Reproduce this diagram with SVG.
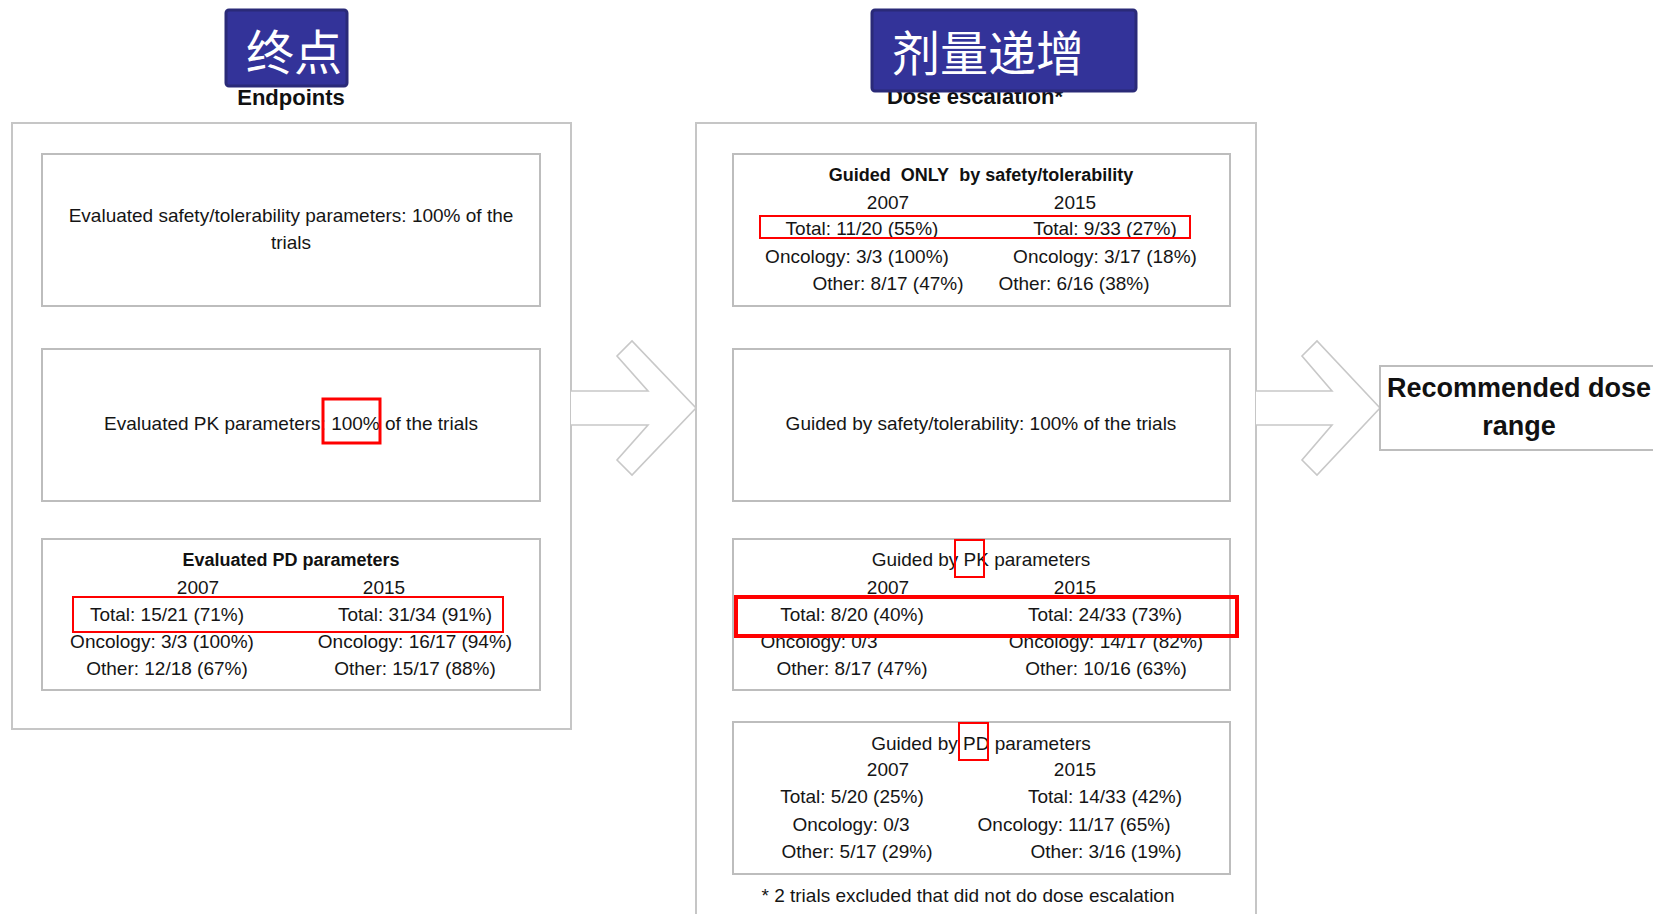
<svg xmlns="http://www.w3.org/2000/svg" width="1653" height="914" viewBox="0 0 1653 914">
<style>
.panel{fill:#fff;stroke:#c6c6c6;stroke-width:2}
.box{fill:#fff;stroke:#bdbdbd;stroke-width:2}
.t{font-family:"Liberation Sans",Arial,sans-serif;font-size:19px;fill:#151515;text-anchor:middle}
.b{font-family:"Liberation Sans",Arial,sans-serif;font-size:18px;font-weight:bold;fill:#111;text-anchor:middle}
.h{font-family:"Liberation Sans",Arial,sans-serif;font-size:22px;font-weight:bold;fill:#111;text-anchor:middle}
.rec{font-family:"Liberation Sans",Arial,sans-serif;font-size:27px;font-weight:bold;fill:#111;text-anchor:middle}
.cn{font-family:"Noto Sans CJK SC","Noto Sans",sans-serif;font-size:48px;fill:#fff;text-anchor:middle}
.tag{fill:#333399;stroke:#2a2a78;stroke-width:3}
.red{fill:none;stroke:#ff0000;stroke-width:2}
.arrow{fill:#fff;stroke:#c8c8c8;stroke-width:1.6;stroke-linejoin:miter}
</style>
<rect width="1653" height="914" fill="#fff"/>

<g id="endpoints-panel">
<rect class="panel" x="12" y="123" width="559" height="606"/>
</g>
<g id="dose-panel">
<rect class="panel" x="696" y="123" width="560" height="800"/>
</g>

<g id="connectors">
<polyline class="arrow" points="571,391 648,391 617,356 632,341 696,408 632,475 617,460 648,425 571,425"/>
<polyline class="arrow" points="1256,391 1332,391 1302,356 1317,341 1380,408 1317,475 1302,460 1332,425 1256,425"/>
</g>

<g id="title-endpoints">
<text class="h" x="291" y="105">Endpoints</text>
<rect class="tag" x="226" y="10" width="121" height="76" rx="3"/>
<text class="cn" x="294" y="70">终点</text>
</g>

<g id="title-dose">
<text class="h" x="975" y="104">Dose escalation*</text>
<rect class="tag" x="872" y="10" width="264" height="81" rx="3"/>
<text class="cn" x="988" y="71">剂量递增</text>
</g>

<g id="ep-safety">
<rect class="box" x="42" y="154" width="498" height="152"/>
<text class="t" x="291" y="222">Evaluated safety/tolerability parameters: 100% of the</text>
<text class="t" x="291" y="249">trials</text>
</g>

<g id="ep-pk">
<rect class="box" x="42" y="349" width="498" height="152"/>
<text class="t" x="291" y="430">Evaluated PK parameters: 100% of the trials</text>
<rect class="red" x="323" y="399" width="57" height="44" style="stroke-width:3"/>
</g>

<g id="ep-pd">
<rect class="box" x="42" y="539" width="498" height="151"/>
<text class="b" x="291" y="566">Evaluated PD parameters</text>
<text class="t" x="198" y="594">2007</text>
<text class="t" x="384" y="594">2015</text>
<text class="t" x="167" y="621">Total: 15/21 (71%)</text>
<text class="t" x="415" y="621">Total: 31/34 (91%)</text>
<text class="t" x="162" y="648">Oncology: 3/3 (100%)</text>
<text class="t" x="415" y="648">Oncology: 16/17 (94%)</text>
<text class="t" x="167" y="675">Other: 12/18 (67%)</text>
<text class="t" x="415" y="675">Other: 15/17 (88%)</text>
<rect class="red" x="73" y="597" width="430" height="35"/>
</g>

<g id="de-only-safety">
<rect class="box" x="733" y="154" width="497" height="152"/>
<text class="b" x="981" y="181">Guided&#160; ONLY&#160; by safety/tolerability</text>
<text class="t" x="888" y="209">2007</text>
<text class="t" x="1075" y="209">2015</text>
<text class="t" x="862" y="235">Total: 11/20 (55%)</text>
<text class="t" x="1105" y="235">Total: 9/33 (27%)</text>
<text class="t" x="857" y="263">Oncology: 3/3 (100%)</text>
<text class="t" x="1105" y="263">Oncology: 3/17 (18%)</text>
<text class="t" x="888" y="290">Other: 8/17 (47%)</text>
<text class="t" x="1074" y="290">Other: 6/16 (38%)</text>
<rect class="red" x="760" y="216" width="430" height="22"/>
</g>

<g id="de-safety">
<rect class="box" x="733" y="349" width="497" height="152"/>
<text class="t" x="981" y="430">Guided by safety/tolerability: 100% of the trials</text>
</g>

<g id="de-pk">
<rect class="box" x="733" y="539" width="497" height="151"/>
<text class="t" x="981" y="566">Guided by PK parameters</text>
<rect class="red" x="955" y="540" width="29" height="37"/>
<text class="t" x="888" y="594">2007</text>
<text class="t" x="1075" y="594">2015</text>
<text class="t" x="852" y="621">Total: 8/20 (40%)</text>
<text class="t" x="1105" y="621">Total: 24/33 (73%)</text>
<text class="t" x="819" y="648">Oncology: 0/3</text>
<text class="t" x="1106" y="648">Oncology: 14/17 (82%)</text>
<text class="t" x="852" y="675">Other: 8/17 (47%)</text>
<text class="t" x="1106" y="675">Other: 10/16 (63%)</text>
<rect class="red" x="736" y="597" width="501" height="39" style="stroke-width:4"/>
</g>

<g id="de-pd">
<rect class="box" x="733" y="722" width="497" height="152"/>
<text class="t" x="981" y="750">Guided by PD parameters</text>
<rect class="red" x="959" y="723" width="29" height="37"/>
<text class="t" x="888" y="776">2007</text>
<text class="t" x="1075" y="776">2015</text>
<text class="t" x="852" y="803">Total: 5/20 (25%)</text>
<text class="t" x="1105" y="803">Total: 14/33 (42%)</text>
<text class="t" x="851" y="831">Oncology: 0/3</text>
<text class="t" x="1074" y="831">Oncology: 11/17 (65%)</text>
<text class="t" x="857" y="858">Other: 5/17 (29%)</text>
<text class="t" x="1106" y="858">Other: 3/16 (19%)</text>
</g>

<g id="footnote">
<text class="t" x="968" y="902">* 2 trials excluded that did not do dose escalation</text>
</g>

<g id="recommended">
<rect class="box" x="1380" y="366" width="290" height="84"/>
<text class="rec" x="1519" y="397">Recommended dose</text>
<text class="rec" x="1519" y="435">range</text>
</g>
</svg>
